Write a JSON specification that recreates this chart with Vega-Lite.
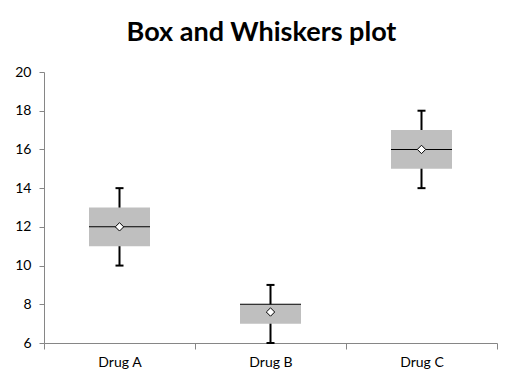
{
  "$schema": "https://vega.github.io/schema/vega-lite/v6.json",
  "width": 453,
  "height": 271,
  "autosize": {"type": "none"},
  "padding": {"left": 44, "top": 72, "right": 25, "bottom": 44},
  "background": "white",
  "config": {"view": {"stroke": null}, "font": "Lato",
    "axisY": {"labelOverlap": false, "labelBound": false, "labelFlush": false, "grid": false, "domainColor": "#868686", "tickColor": "#868686", "tickSize": 5, "labelFontSize": 14, "labelColor": "#000000", "labelPadding": 8, "labelFont": "Lato"}},
  "title": {"text": "Box and Whiskers plot", "font": "Lato", "fontSize": 27, "fontWeight": "bold", "color": "#000000", "anchor": "middle", "frame": "group", "dx": -9, "offset": 18},
  "data": {"values": [
    {"drug": "Drug A", "min": 10, "q1": 11, "median": 12, "q3": 13, "max": 14, "mean": 12},
    {"drug": "Drug B", "min": 6, "q1": 7, "median": 8, "q3": 8, "max": 9, "mean": 7.6},
    {"drug": "Drug C", "min": 14, "q1": 15, "median": 16, "q3": 17, "max": 18, "mean": 16}
  ]},
  "encoding": {
    "x": {"field": "drug", "type": "nominal", "title": null,
      "scale": {"paddingInner": 0, "paddingOuter": 0},
      "axis": {"labelAngle": 0, "domainColor": "#868686", "tickColor": "#868686", "tickSize": 6, "tickBand": "extent", "labelFontSize": 14, "labelColor": "#000000", "labelPadding": 6, "labelFont": "Lato"}}
  },
  "layer": [
    {"mark": {"type": "rule", "color": "#000000", "strokeWidth": 2},
     "encoding": {
       "y": {"field": "min", "type": "quantitative", "title": null,
         "scale": {"domain": [6, 20], "nice": false, "zero": false},
         "axis": {"values": [6, 8, 10, 12, 14, 16, 18, 20]}},
       "y2": {"field": "max"}}},
    {"mark": {"type": "tick", "color": "#000000", "thickness": 2, "size": 8, "opacity": 1},
     "encoding": {"y": {"field": "min", "type": "quantitative", "title": null, "axis": {"values": [6, 8, 10, 12, 14, 16, 18, 20]}}}},
    {"mark": {"type": "tick", "color": "#000000", "thickness": 2, "size": 8, "opacity": 1},
     "encoding": {"y": {"field": "max", "type": "quantitative", "title": null, "axis": {"values": [6, 8, 10, 12, 14, 16, 18, 20]}}}},
    {"mark": {"type": "bar", "color": "#BFBFBF", "size": 61},
     "encoding": {"y": {"field": "q1", "type": "quantitative", "title": null, "axis": {"values": [6, 8, 10, 12, 14, 16, 18, 20]}}, "y2": {"field": "q3"}}},
    {"mark": {"type": "tick", "color": "#000000", "thickness": 1, "size": 61, "opacity": 1},
     "encoding": {"y": {"field": "median", "type": "quantitative", "title": null, "axis": {"values": [6, 8, 10, 12, 14, 16, 18, 20]}}}},
    {"mark": {"type": "point", "shape": "diamond", "filled": true, "fill": "#FFFFFF", "stroke": "#000000", "strokeWidth": 1, "size": 70, "opacity": 1},
     "encoding": {"y": {"field": "mean", "type": "quantitative", "title": null, "axis": {"values": [6, 8, 10, 12, 14, 16, 18, 20]}}}}
  ]
}
